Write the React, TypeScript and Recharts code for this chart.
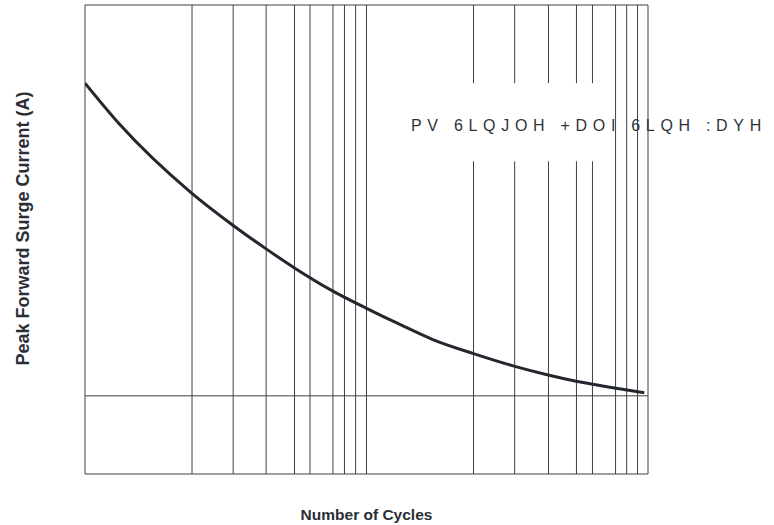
import React from 'react';
import {
  LineChart, Line, XAxis, YAxis, ReferenceLine, ReferenceArea, Label
} from 'recharts';

// surge curve
const cycles = [1, 1.33, 2.38, 3.36, 4.4, 5.53, 7.6, 10, 13.2, 17.2, 24, 33.4, 43.8, 55, 76, 97];
const surgeAmps = [50.0, 44.7, 36.0, 31.8, 28.8, 26.4, 23.4, 21.2, 19.1, 17.2, 15.4, 13.8, 12.7, 11.9, 11.0, 10.4];

// the printed grid is hand-spaced, so these are where its lines sit (in cycles)
const gridFull = [2.4, 3.36, 4.4, 5.55, 6.3, 7.6, 8.35, 9.15, 10, 76.7, 84, 91.8];
const gridBroken = [24, 33.6, 44.3, 55.7, 63.5];
const gapAmps = [40, 50];
const limitAmps = 10;

const noteText = 'PV 6LQJOH +DOI 6LQH :DYH';

const data = cycles.map((c, i) => ({ cycles: c, amps: surgeAmps[i] }));

const INK = '#2a2e35';
const GRID = '#3c4047';
const FONT = "'Liberation Sans', Arial, sans-serif";

const NoteLabel = (props: any) => {
  const vb = props.viewBox || { x: 0, y: 0 };
  return (
    <text
      x={vb.x + 326}
      y={vb.y + 126}
      fill="#2f3339"
      fontSize={16}
      fontFamily={FONT}
      letterSpacing={5.7}
    >
      {noteText}
    </text>
  );
};

export default function App() {
  return (
    <div style={{ position: 'absolute', left: 0, top: 0, width: 774, height: 525, background: '#fff' }}>
      <LineChart
        width={774}
        height={525}
        data={data}
        margin={{ top: 5, right: 126, bottom: 0, left: 0 }}
      >
        <XAxis
          dataKey="cycles"
          type="number"
          scale="log"
          domain={[1, 100]}
          allowDataOverflow
          tick={false}
          tickLine={false}
          axisLine={false}
          height={51}
        >
          <Label
            value="Number of Cycles"
            position="insideBottom"
            offset={5}
            fill={INK}
            fontSize={15.5}
            fontWeight="bold"
            fontFamily={FONT}
          />
        </XAxis>
        <YAxis
          type="number"
          domain={[0, 60]}
          allowDataOverflow
          tick={false}
          tickLine={false}
          axisLine={false}
          width={85}
        >
          <Label
            value="Peak Forward Surge Current (A)"
            position="center"
            angle={-90}
            dx={-20}
            dy={-11}
            fill={INK}
            fontSize={18}
            fontWeight="bold"
            fontFamily={FONT}
          />
        </YAxis>
        <ReferenceArea
          x1={1}
          x2={100}
          y1={0}
          y2={60}
          fill="none"
          fillOpacity={0}
          stroke={GRID}
          strokeWidth={1}
          label={<NoteLabel />}
        />
        {gridFull.map((v) => (
          <ReferenceLine key={'f' + v} x={v} stroke={GRID} strokeWidth={1} />
        ))}
        {gridBroken.map((v) => (
          <ReferenceLine key={'b' + v} segment={[{ x: v, y: 0 }, { x: v, y: gapAmps[0] }]} stroke={GRID} strokeWidth={1} />
        ))}
        {gridBroken.map((v) => (
          <ReferenceLine key={'t' + v} segment={[{ x: v, y: gapAmps[1] }, { x: v, y: 60 }]} stroke={GRID} strokeWidth={1} />
        ))}
        <ReferenceLine y={limitAmps} stroke={GRID} strokeWidth={1} />
        <Line
          type="monotone"
          dataKey="amps"
          stroke="#23272e"
          strokeWidth={3}
          dot={false}
          isAnimationActive={false}
        />
      </LineChart>
    </div>
  );
}
